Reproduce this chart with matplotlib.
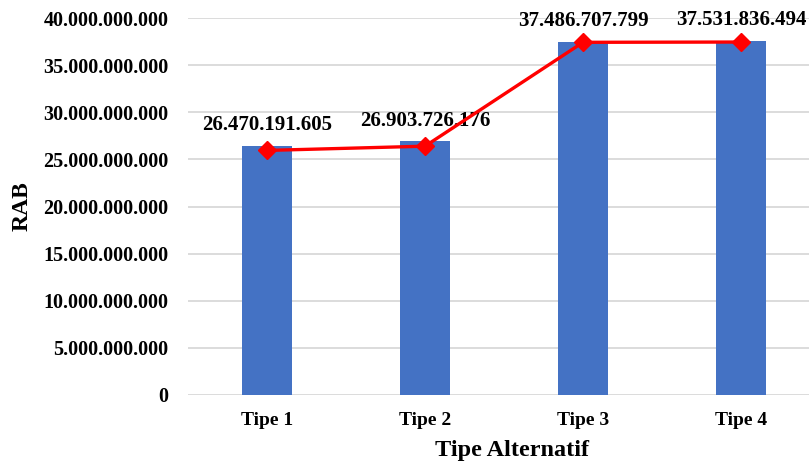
import numpy as np
import matplotlib.pyplot as plt
from matplotlib.ticker import FuncFormatter, MultipleLocator

# RAB per alternative type
tipe = ["Tipe 1", "Tipe 2", "Tipe 3", "Tipe 4"]
rab = [26470191605, 26903726176, 37486707799, 37531836494]
# trend line values
trend = [25.95e9, 26.40e9, 37.42e9, 37.45e9]

plt.rcParams['font.family'] = ['Liberation Serif', 'DejaVu Serif']
plt.rcParams['font.weight'] = 'bold'


def dot_thousands(v, pos=None):
    return f"{v:,.0f}".replace(",", ".")


fig = plt.figure(figsize=(8.09, 4.63), dpi=100)
W, H = 809, 463
ax = fig.add_axes([188 / W, (H - 395) / H, (809 - 188) / W, (395 - 18) / H])

x = np.arange(len(tipe))
ax.bar(x, rab, width=0.32, color='#4472C4', zorder=2)
ax.plot(x, trend, color='#FF0000', lw=2.4, marker='D', markersize=9,
        zorder=4)

# value labels above each bar
for xi, v in zip(x, rab):
    ax.annotate(dot_thousands(v), (xi, v), xytext=(0, 15),
                textcoords='offset points', ha='center', va='center',
                fontsize=15, fontweight='bold', zorder=3)

ax.set_xlim(-0.5, 3.43)
ax.set_ylim(0, 40e9)
ax.yaxis.set_major_locator(MultipleLocator(5e9))
ax.yaxis.set_major_formatter(FuncFormatter(dot_thousands))
ax.set_xticks(x)
ax.set_xticklabels(tipe)

ax.grid(axis='y', color='#d9d9d9', lw=1.3, zorder=0)
ax.set_axisbelow(True)
for s in ['top', 'right', 'left', 'bottom']:
    ax.spines[s].set_visible(False)
ax.tick_params(axis='y', length=0, pad=14, labelsize=14.5)
ax.tick_params(axis='x', length=0, pad=12, labelsize=14)

ax.set_xlabel("Tipe Alternatif", fontsize=17.5, fontweight='bold')
ax.xaxis.set_label_coords(0.522, -0.12)
ax.set_ylabel("RAB", fontsize=17, fontweight='bold')
ax.yaxis.set_label_coords(-0.25, 0.5)

fig.savefig("out.png", dpi=100)
